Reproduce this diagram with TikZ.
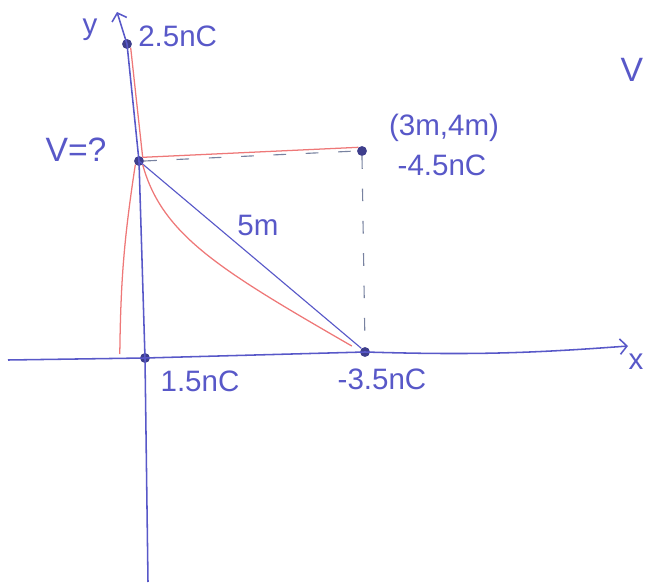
\documentclass[tikz,border=0pt]{standalone}
\usepackage{fontspec}
\setmainfont{Liberation Sans}
\usetikzlibrary{calc,arrows.meta}
\definecolor{ink}{RGB}{88,88,200}
\definecolor{redink}{RGB}{238,120,120}
\definecolor{greyink}{RGB}{120,130,160}
\begin{document}
\begin{tikzpicture}[x=0.025cm, y=-0.025cm,
  dot/.style={circle, fill=ink!70!black, inner sep=0pt, minimum size=7pt},
  lbl/.style={text=ink, font=\fontsize{21}{24}\selectfont, inner sep=0pt},
  axis/.style={draw=ink, line width=1.1pt, -{Straight Barb[length=5pt,width=11pt]}},
  red line/.style={draw=redink, line width=0.9pt},
  guide/.style={draw=greyink, line width=0.8pt, dash pattern=on 9pt off 14pt}]
\useasboundingbox (0,0) rectangle (647,585);
% charges and the point where V is wanted
\node[dot] (q1) at (127,44) {};
\node[dot] (pV) at (139,161) {};
\node[dot] (q2) at (362,151) {};
\node[dot] (o)  at (145,358) {};
\node[dot] (q3) at (365,352) {};
\coordinate (ytop) at (117,12);
\coordinate (ybot) at (148,582);
\coordinate (xleft) at (8,360);
\coordinate (xright) at (628,346);
% axes
\draw[axis] (ybot) -- (o.center) -- (pV.center) -- (q1.center) -- (ytop);
\draw[axis] (xleft) -- (o.center) -- (q3.center) to[bend right=3] (xright);
% distance and guides
\draw[draw=ink, line width=0.8pt] (pV.center) -- (q3.north west);
\draw[guide] (pV.east) -- (q2.west);
\draw[guide] (q2.south) -- (q3.north);
% red strokes
\draw[red line] (pV.north east) -- (q1.south east);
\draw[red line] (pV.north east) -- (q2.north west);
\draw[red line] (pV.south west) to[bend right=4] ($(o.west)+(-20,-4)$);
\draw[red line] (pV.south east) .. controls (162,235) and (220,270) .. ($(q3.west)+(-8,-6)$);
% labels
\node[lbl] (ylab) at (90,30) {y};
\node[lbl, anchor=west] (l1) at (138,36) {2.5nC};
\node[lbl, font=\fontsize{24}{28}\selectfont] (lV) at (76,150) {V=?};
\node[lbl] (l2a) at (444,128) {(3m,4m)};
\node[lbl] (l2b) at (442,165) {-4.5nC};
\node[lbl] (ld) at (258,225) {5m};
\node[lbl] (l0) at (200,381) {1.5nC};
\node[lbl] (l3) at (382,379) {-3.5nC};
\node[lbl] (xlab) at (636,362) {x};
\node[lbl, font=\fontsize{24}{28}\selectfont] (lV2) at (632,70) {V};
\end{tikzpicture}
\end{document}
